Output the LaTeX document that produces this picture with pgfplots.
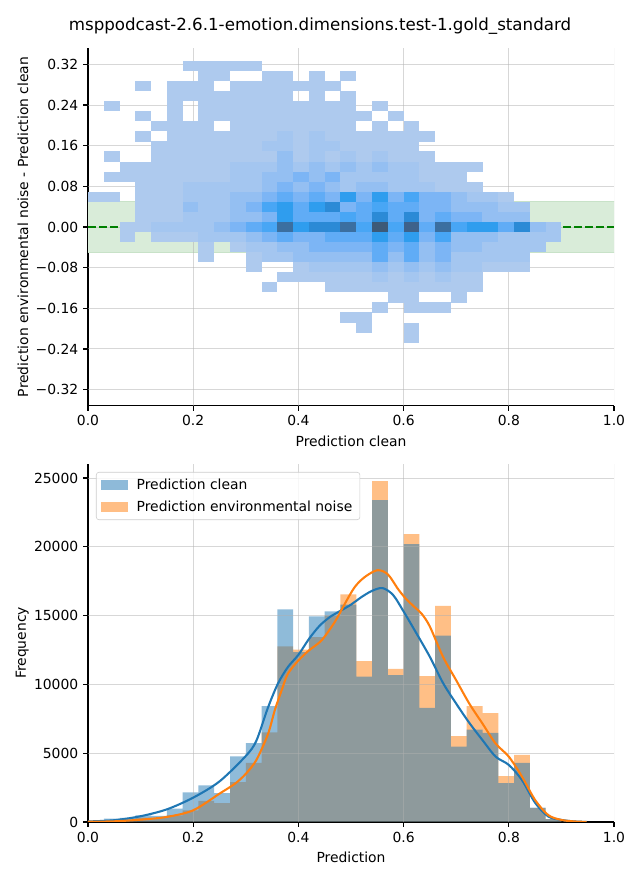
\documentclass[border=0pt]{standalone}
\usepackage{pgfplots}
\pgfplotsset{compat=1.18}
\usepackage{fontspec}
\setmainfont{DejaVu Sans}
\definecolor{c0}{RGB}{31,119,180}
\definecolor{c1}{RGB}{255,127,14}
\definecolor{bandgreen}{RGB}{217,236,217}
\definecolor{bandedge}{RGB}{200,226,200}
\definecolor{dgreen}{RGB}{0,128,0}
\definecolor{gridc}{RGB}{176,176,176}
\pgfdeclareplotmark{cell}{\pgfpathrectangle{\pgfpoint{-5.72pt}{-3.66pt}}{\pgfpoint{11.44pt}{7.32pt}}\pgfusepathqfill}
\pgfplotsset{
  common/.style={
    scale only axis, width=378.72pt,
    xmin=0, xmax=1,
    axis x line*=bottom, axis y line*=left,
    axis line style={line width=0.8pt},
    tick align=outside, major tick length=3.5pt,
    tick style={black, line width=0.8pt},
    xtick={0,0.2,0.4,0.6,0.8,1}, xticklabels={0.0,0.2,0.4,0.6,0.8,1.0},
    ticklabel style={font=\fontsize{10}{12}\selectfont},
    label style={font=\fontsize{10}{12}\selectfont},
    scaled ticks=false,
  },
  gridline/.style={gridc, opacity=0.5, line width=0.7pt, forget plot},
  barleg/.style={legend image code/.code={\fill[##1, sharp corners] (0pt,-3.7pt) rectangle (19.6pt,3.7pt);}},
}
\pgfplotstableread{
x y l
0.195 0.3168 1
0.225 0.3168 1
0.255 0.3168 1
0.285 0.3168 1
0.315 0.3168 1
0.225 0.2970 1
0.255 0.2970 1
0.345 0.2970 1
0.375 0.2970 1
0.435 0.2970 1
0.495 0.2970 1
0.105 0.2772 1
0.165 0.2772 1
0.195 0.2772 1
0.225 0.2772 1
0.285 0.2772 1
0.315 0.2772 1
0.345 0.2772 1
0.375 0.2772 1
0.405 0.2772 1
0.435 0.2772 1
0.465 0.2772 1
0.165 0.2574 1
0.195 0.2574 1
0.225 0.2574 1
0.255 0.2574 1
0.285 0.2574 1
0.315 0.2574 1
0.345 0.2574 1
0.375 0.2574 1
0.435 0.2574 1
0.495 0.2574 1
0.045 0.2376 1
0.165 0.2376 1
0.225 0.2376 1
0.255 0.2376 1
0.285 0.2376 1
0.315 0.2376 1
0.345 0.2376 1
0.375 0.2376 1
0.405 0.2376 1
0.435 0.2376 1
0.465 0.2376 1
0.495 0.2376 1
0.555 0.2376 1
0.105 0.2178 1
0.165 0.2178 1
0.225 0.2178 1
0.255 0.2178 1
0.285 0.2178 1
0.315 0.2178 1
0.345 0.2178 1
0.375 0.2178 1
0.405 0.2178 1
0.435 0.2178 1
0.465 0.2178 1
0.495 0.2178 1
0.525 0.2178 1
0.585 0.2178 1
0.135 0.1980 1
0.165 0.1980 1
0.195 0.1980 1
0.225 0.1980 1
0.285 0.1980 1
0.315 0.1980 1
0.345 0.1980 1
0.375 0.1980 1
0.405 0.1980 1
0.435 0.1980 1
0.465 0.1980 1
0.495 0.1980 1
0.555 0.1980 1
0.615 0.1980 1
0.105 0.1782 1
0.165 0.1782 1
0.195 0.1782 1
0.225 0.1782 1
0.255 0.1782 1
0.285 0.1782 1
0.315 0.1782 1
0.345 0.1782 1
0.375 0.1782 2
0.405 0.1782 1
0.435 0.1782 2
0.465 0.1782 1
0.495 0.1782 1
0.525 0.1782 1
0.555 0.1782 1
0.585 0.1782 1
0.615 0.1782 1
0.645 0.1782 1
0.135 0.1584 1
0.165 0.1584 1
0.195 0.1584 1
0.225 0.1584 1
0.255 0.1584 1
0.285 0.1584 1
0.315 0.1584 1
0.345 0.1584 2
0.375 0.1584 2
0.405 0.1584 1
0.435 0.1584 2
0.465 0.1584 2
0.495 0.1584 1
0.525 0.1584 1
0.555 0.1584 1
0.585 0.1584 1
0.615 0.1584 1
0.045 0.1386 1
0.135 0.1386 1
0.165 0.1386 1
0.195 0.1386 1
0.225 0.1386 1
0.255 0.1386 1
0.285 0.1386 1
0.315 0.1386 1
0.345 0.1386 1
0.375 0.1386 3
0.405 0.1386 1
0.435 0.1386 2
0.465 0.1386 1
0.495 0.1386 2
0.525 0.1386 1
0.555 0.1386 2
0.585 0.1386 1
0.615 0.1386 1
0.645 0.1386 1
0.075 0.1188 1
0.105 0.1188 1
0.135 0.1188 1
0.165 0.1188 1
0.195 0.1188 1
0.225 0.1188 1
0.255 0.1188 1
0.285 0.1188 2
0.315 0.1188 2
0.345 0.1188 2
0.375 0.1188 3
0.405 0.1188 2
0.435 0.1188 3
0.465 0.1188 2
0.495 0.1188 3
0.525 0.1188 2
0.555 0.1188 3
0.585 0.1188 2
0.615 0.1188 2
0.645 0.1188 1
0.675 0.1188 1
0.705 0.1188 1
0.735 0.1188 1
0.045 0.0990 1
0.075 0.0990 1
0.105 0.0990 1
0.135 0.0990 1
0.165 0.0990 1
0.195 0.0990 1
0.225 0.0990 1
0.255 0.0990 1
0.285 0.0990 2
0.315 0.0990 2
0.345 0.0990 3
0.375 0.0990 3
0.405 0.0990 4
0.435 0.0990 3
0.465 0.0990 4
0.495 0.0990 2
0.525 0.0990 2
0.555 0.0990 2
0.585 0.0990 2
0.615 0.0990 2
0.645 0.0990 1
0.675 0.0990 1
0.705 0.0990 1
0.105 0.0792 1
0.135 0.0792 1
0.165 0.0792 1
0.195 0.0792 2
0.225 0.0792 2
0.255 0.0792 2
0.285 0.0792 2
0.315 0.0792 2
0.345 0.0792 3
0.375 0.0792 4
0.405 0.0792 3
0.435 0.0792 4
0.465 0.0792 3
0.495 0.0792 2
0.525 0.0792 3
0.555 0.0792 3
0.585 0.0792 2
0.615 0.0792 2
0.645 0.0792 2
0.675 0.0792 1
0.705 0.0792 1
0.735 0.0792 1
0.015 0.0594 1
0.045 0.0594 1
0.105 0.0594 1
0.135 0.0594 1
0.165 0.0594 1
0.195 0.0594 2
0.225 0.0594 2
0.255 0.0594 2
0.285 0.0594 3
0.315 0.0594 3
0.345 0.0594 4
0.375 0.0594 5
0.405 0.0594 4
0.435 0.0594 5
0.465 0.0594 4
0.495 0.0594 7
0.525 0.0594 4
0.555 0.0594 7
0.585 0.0594 4
0.615 0.0594 6
0.645 0.0594 4
0.675 0.0594 4
0.705 0.0594 3
0.735 0.0594 2
0.765 0.0594 2
0.795 0.0594 1
0.105 0.0396 1
0.135 0.0396 1
0.165 0.0396 1
0.195 0.0396 3
0.225 0.0396 2
0.255 0.0396 2
0.285 0.0396 3
0.315 0.0396 4
0.345 0.0396 6
0.375 0.0396 7
0.405 0.0396 5
0.435 0.0396 7
0.465 0.0396 8
0.495 0.0396 4
0.525 0.0396 5
0.555 0.0396 6
0.585 0.0396 5
0.615 0.0396 5
0.645 0.0396 4
0.675 0.0396 4
0.705 0.0396 3
0.735 0.0396 3
0.765 0.0396 3
0.795 0.0396 2
0.825 0.0396 2
0.105 0.0198 1
0.135 0.0198 1
0.165 0.0198 1
0.195 0.0198 2
0.225 0.0198 2
0.255 0.0198 2
0.285 0.0198 3
0.315 0.0198 3
0.345 0.0198 4
0.375 0.0198 7
0.405 0.0198 5
0.435 0.0198 5
0.465 0.0198 5
0.495 0.0198 6
0.525 0.0198 5
0.555 0.0198 8
0.585 0.0198 5
0.615 0.0198 8
0.645 0.0198 4
0.675 0.0198 5
0.705 0.0198 4
0.735 0.0198 4
0.765 0.0198 3
0.795 0.0198 3
0.825 0.0198 3
0.075 0 1
0.105 0 1
0.135 0 2
0.165 0 2
0.195 0 2
0.225 0 2
0.255 0 3
0.285 0 4
0.315 0 5
0.345 0 6
0.375 0 9
0.405 0 7
0.435 0 8
0.465 0 8
0.495 0 9
0.525 0 6
0.555 0 11
0.585 0 6
0.615 0 10
0.645 0 5
0.675 0 9
0.705 0 6
0.735 0 7
0.765 0 7
0.795 0 5
0.825 0 8
0.855 0 3
0.885 0 2
0.075 -0.0198 1
0.135 -0.0198 1
0.165 -0.0198 1
0.195 -0.0198 1
0.225 -0.0198 2
0.255 -0.0198 2
0.285 -0.0198 2
0.315 -0.0198 3
0.345 -0.0198 4
0.375 -0.0198 5
0.405 -0.0198 4
0.435 -0.0198 4
0.465 -0.0198 5
0.495 -0.0198 5
0.525 -0.0198 5
0.555 -0.0198 7
0.585 -0.0198 5
0.615 -0.0198 7
0.645 -0.0198 4
0.675 -0.0198 6
0.705 -0.0198 3
0.735 -0.0198 3
0.765 -0.0198 3
0.795 -0.0198 2
0.825 -0.0198 2
0.855 -0.0198 2
0.885 -0.0198 2
0.225 -0.0396 1
0.285 -0.0396 1
0.315 -0.0396 2
0.345 -0.0396 2
0.375 -0.0396 3
0.405 -0.0396 3
0.435 -0.0396 4
0.465 -0.0396 4
0.495 -0.0396 4
0.525 -0.0396 4
0.555 -0.0396 5
0.585 -0.0396 4
0.615 -0.0396 5
0.645 -0.0396 3
0.675 -0.0396 4
0.705 -0.0396 3
0.735 -0.0396 3
0.765 -0.0396 2
0.795 -0.0396 2
0.825 -0.0396 2
0.855 -0.0396 2
0.225 -0.0594 1
0.315 -0.0594 1
0.345 -0.0594 2
0.375 -0.0594 2
0.405 -0.0594 3
0.435 -0.0594 3
0.465 -0.0594 3
0.495 -0.0594 3
0.525 -0.0594 3
0.555 -0.0594 5
0.585 -0.0594 3
0.615 -0.0594 5
0.645 -0.0594 3
0.675 -0.0594 4
0.705 -0.0594 2
0.735 -0.0594 2
0.765 -0.0594 2
0.795 -0.0594 2
0.825 -0.0594 2
0.315 -0.0792 1
0.405 -0.0792 1
0.435 -0.0792 2
0.465 -0.0792 2
0.495 -0.0792 2
0.525 -0.0792 2
0.555 -0.0792 3
0.585 -0.0792 2
0.615 -0.0792 3
0.645 -0.0792 2
0.675 -0.0792 3
0.705 -0.0792 2
0.735 -0.0792 2
0.765 -0.0792 1
0.795 -0.0792 1
0.825 -0.0792 1
0.375 -0.0990 1
0.405 -0.0990 1
0.435 -0.0990 1
0.465 -0.0990 1
0.495 -0.0990 1
0.525 -0.0990 1
0.555 -0.0990 2
0.585 -0.0990 1
0.615 -0.0990 2
0.645 -0.0990 1
0.675 -0.0990 2
0.705 -0.0990 1
0.735 -0.0990 1
0.345 -0.1188 1
0.465 -0.1188 1
0.495 -0.1188 1
0.525 -0.1188 1
0.555 -0.1188 1
0.585 -0.1188 1
0.615 -0.1188 1
0.645 -0.1188 1
0.675 -0.1188 1
0.705 -0.1188 1
0.735 -0.1188 1
0.585 -0.1386 1
0.615 -0.1386 1
0.705 -0.1386 1
0.555 -0.1584 1
0.615 -0.1584 1
0.645 -0.1584 1
0.675 -0.1584 1
0.495 -0.1782 1
0.525 -0.1782 1
0.525 -0.1980 1
0.615 -0.1980 1
0.615 -0.2178 1
}\cells
\pgfplotstableread{
x clean noise
0.00 50 30
0.03 240 120
0.06 300 170
0.09 480 310
0.12 450 300
0.15 970 480
0.18 2150 850
0.21 2660 1530
0.24 2100 1380
0.27 4770 2900
0.30 5740 4290
0.33 8430 6510
0.36 15450 12760
0.39 12350 12520
0.42 14940 13440
0.45 15300 15010
0.48 15790 16540
0.51 10560 11700
0.54 23400 24780
0.57 10680 11120
0.60 20200 20930
0.63 8300 10600
0.66 13540 15700
0.69 5470 6250
0.72 6710 8430
0.75 6470 7920
0.78 2830 3340
0.81 4290 4870
0.84 1040 1000
0.87 200 200
0.90 0 0
}\hist
\pgfplotstableread{
x y
0.00 40
0.05 130
0.10 420
0.15 920
0.20 1770
0.25 2950
0.30 4800
0.32 5900
0.342 8300
0.361 10050
0.38 11260
0.40 12150
0.42 13300
0.44 14250
0.46 14900
0.48 15350
0.50 15800
0.52 16350
0.54 16800
0.56 17000
0.58 16500
0.60 15300
0.62 14000
0.65 12000
0.675 10100
0.70 8600
0.725 7200
0.75 5950
0.775 4750
0.80 4150
0.825 3050
0.85 1400
0.875 400
0.90 150
0.925 40
0.948 5
}\kdeclean
\pgfplotstableread{
x y
0.00 15
0.05 50
0.10 170
0.15 370
0.20 850
0.25 2060
0.28 2800
0.30 3500
0.32 4500
0.342 6370
0.355 8110
0.368 9560
0.38 10770
0.40 11740
0.42 12470
0.444 13200
0.469 14530
0.488 15840
0.507 17070
0.526 17800
0.55 18300
0.57 18000
0.59 16900
0.605 16200
0.62 15650
0.635 15100
0.65 14200
0.675 12000
0.70 10300
0.725 8600
0.75 7150
0.775 5700
0.80 4750
0.825 3300
0.85 1600
0.875 500
0.90 150
0.925 40
0.948 5
}\kdenoise
\begin{document}
\begin{tikzpicture}
\useasboundingbox (0,0) rectangle (460.8pt,633.6pt);
\node[font=\fontsize{12}{14}\selectfont] at (230.4pt,614.9pt) {msppodcast-2.6.1-emotion.dimensions.test-1.gold\_standard};
\begin{axis}[common,
  at={(63.36pt,341.35pt)}, anchor=south west, height=257.6pt,
  ymin=-0.352, ymax=0.352,
  ytick={-0.32,-0.24,-0.16,-0.08,0,0.08,0.16,0.24,0.32},
  yticklabels={−0.32,−0.24,−0.16,−0.08,0.00,0.08,0.16,0.24,0.32},
  xlabel={Prediction clean},
  ylabel={Prediction environmental noise - Prediction clean},
  ylabel shift=-1.5pt,
  colormap={cells}{rgb255=(174,202,238) rgb255=(164,198,240) rgb255=(148,191,242) rgb255=(124,181,245) rgb255=(96,172,246) rgb255=(72,166,245) rgb255=(47,157,238) rgb255=(43,138,214) rgb255=(59,111,160) rgb255=(62,98,138) rgb255=(61,90,120)},
  point meta min=1, point meta max=11,
]
\addplot[draw=bandedge, line width=0.8pt, fill=bandgreen, forget plot] coordinates {(-0.01,-0.05) (1.01,-0.05) (1.01,0.05) (-0.01,0.05) (-0.01,-0.05)};
\addplot[scatter, only marks, mark=cell, point meta=explicit, scatter/use mapped color={draw=none, fill=mapped color}, forget plot] table[x=x, y=y, meta=l] {\cells};
\pgfplotsinvokeforeach{0.2,0.4,0.6,0.8,1}{\addplot[gridline] coordinates {(#1,-0.352) (#1,0.352)};}
\pgfplotsinvokeforeach{-0.32,-0.24,-0.16,-0.08,0,0.08,0.16,0.24,0.32}{\addplot[gridline] coordinates {(0,#1) (1,#1)};}
\addplot[dgreen, line width=1.5pt, dash pattern=on 5.55pt off 2.4pt, forget plot] coordinates {(0,0) (1,0)};
\end{axis}
\begin{axis}[common,
  at={(63.36pt,41.76pt)}, anchor=south west, height=257.76pt,
  ymin=0, ymax=26019,
  ytick={0,5000,10000,15000,20000,25000},
  yticklabels={0,5000,10000,15000,20000,25000},
  xlabel={Prediction}, ylabel={Frequency},
  ylabel shift=-3pt,
  legend cell align=left,
  legend style={at={(0.0152,0.9777)}, anchor=north west, draw=gray!40, rounded corners=2pt, fill=white, fill opacity=0.8, draw opacity=1, text opacity=1, font=\fontsize{10}{12}\selectfont, inner xsep=3.5pt, inner ysep=2.5pt, row sep=3pt, column sep=4pt},
]
\addplot[ybar interval, fill=c1, fill opacity=0.5, draw=none, forget plot] table[x=x, y=noise] {\hist};
\addplot[ybar interval, fill=c0, fill opacity=0.5, draw=none, forget plot] table[x=x, y=clean] {\hist};
\pgfplotsinvokeforeach{0.2,0.4,0.6,0.8,1}{\addplot[gridline] coordinates {(#1,0) (#1,26019)};}
\pgfplotsinvokeforeach{5000,10000,15000,20000,25000}{\addplot[gridline] coordinates {(0,#1) (1,#1)};}
\addplot[c0, line width=1.5pt, smooth, forget plot] table[x=x, y=y] {\kdeclean};
\addplot[c1, line width=1.5pt, smooth, forget plot] table[x=x, y=y] {\kdenoise};
\addlegendimage{barleg, fill=c0, fill opacity=0.5, draw=none}
\addlegendentry{Prediction clean}
\addlegendimage{barleg, fill=c1, fill opacity=0.5, draw=none}
\addlegendentry{Prediction environmental noise}
\end{axis}
\end{tikzpicture}
\end{document}
